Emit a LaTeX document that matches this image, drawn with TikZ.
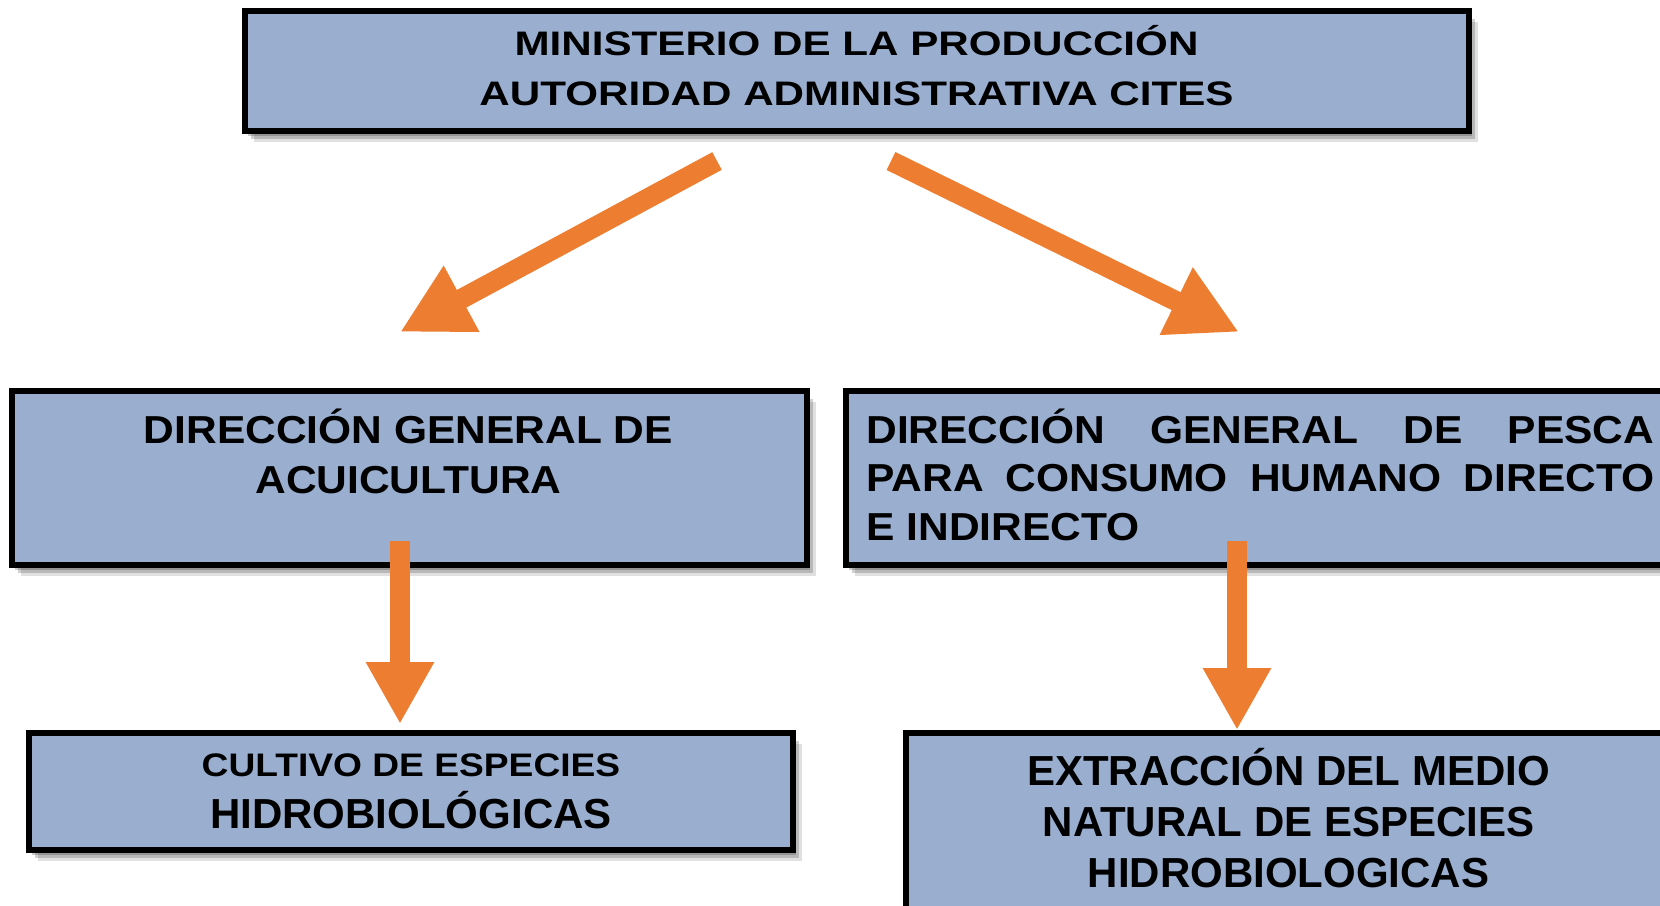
\documentclass[tikz,border=0pt]{standalone}
\usepackage{fontspec}
\setmainfont{Liberation Sans}
\newfontfamily\topff[FakeStretch=1.24]{Liberation Sans}
\newfontfamily\midff[FakeStretch=1.09]{Liberation Sans}
\newfontfamily\lowff[FakeStretch=1.14]{Liberation Sans}
\usetikzlibrary{arrows.meta,shadows}
\definecolor{boxblue}{RGB}{154,174,207}
\definecolor{arroworange}{RGB}{237,125,49}
\tikzset{
    box/.style={draw=black, line width=3pt, fill=boxblue, inner sep=0pt,
        drop shadow={shadow xshift=4.5pt, shadow yshift=-5.5pt, opacity=0.12, fill=black},
        drop shadow={shadow xshift=3pt, shadow yshift=-4pt, opacity=0.18, fill=black},
        drop shadow={shadow xshift=1.5pt, shadow yshift=-2.5pt, opacity=0.2, fill=black}},
    boxtext/.style={inner sep=0pt},
    bigarrow/.style={draw=arroworange, line width=10pt, -{Triangle[length=35pt,width=35pt]}},
    downarrow/.style={draw=arroworange, line width=10pt, -{Triangle[length=31pt,width=32pt]}}
}
\begin{document}
\begin{tikzpicture}[x=0.5pt, y=-0.5pt]
            \useasboundingbox (0,0) rectangle (1660,905);
            \node[box, minimum width=612pt, minimum height=60pt] (ministerio) at (857,71) {};
            \node[box, minimum width=397.5pt, minimum height=87pt] (acuicultura) at (409.5,478) {};
            \node[box, minimum width=427pt, minimum height=87pt] (pesca) at (1273,478) {};
            \node[box, minimum width=382pt, minimum height=58.5pt] (cultivo) at (411,791.5) {};
            \node[box, minimum width=397pt, minimum height=113.5pt] (extraccion) at (1303,846.5) {};

            \node[boxtext, align=center, anchor=base, font={\topff\bfseries\fontsize{17pt}{25pt}\selectfont}] (ministerio-t) at (856.5,105)
                {MINISTERIO DE LA PRODUCCIÓN\\AUTORIDAD ADMINISTRATIVA CITES};
            \node[boxtext, align=center, anchor=base, font={\midff\bfseries\fontsize{19.5pt}{25pt}\selectfont}] (acuicultura-t) at (408.5,493)
                {DIRECCIÓN GENERAL DE\\ACUICULTURA};
            \node[boxtext, text width=394pt, align=justify, anchor=base west, font={\midff\bfseries\fontsize{19.5pt}{24.3pt}\selectfont}] (pesca-t) at (866,443)
                {DIRECCIÓN GENERAL DE PESCA\linebreak PARA CONSUMO HUMANO DIRECTO\linebreak E INDIRECTO};
            \node[boxtext, align=center, anchor=base, font={\bfseries\fontsize{21pt}{25.8pt}\selectfont}] (cultivo-t) at (411,828)
                {{\lowff\fontsize{16.3pt}{25.8pt}\selectfont CULTIVO DE ESPECIES}\\HIDROBIOLÓGICAS};
            \node[boxtext, align=center, anchor=base, font={\bfseries\fontsize{21pt}{25.5pt}\selectfont}] (extraccion-t) at (1288.5,887)
                {EXTRACCIÓN DEL MEDIO\\NATURAL DE ESPECIES\\HIDROBIOLOGICAS};

            \coordinate (d1) at (717,161);
            \coordinate (d2) at (400,332);
            \coordinate (d3) at (891,161);
            \coordinate (d4) at (1239,332);
            \coordinate (v1) at (400,541);
            \coordinate (v2) at (400,724);
            \coordinate (v3) at (1237,541);
            \coordinate (v4) at (1237,730);

            \draw[bigarrow] (d1) -- (d2);
            \draw[bigarrow] (d3) -- (d4);
            \draw[downarrow] (v1) -- (v2);
            \draw[downarrow] (v3) -- (v4);
\end{tikzpicture}
\end{document}
